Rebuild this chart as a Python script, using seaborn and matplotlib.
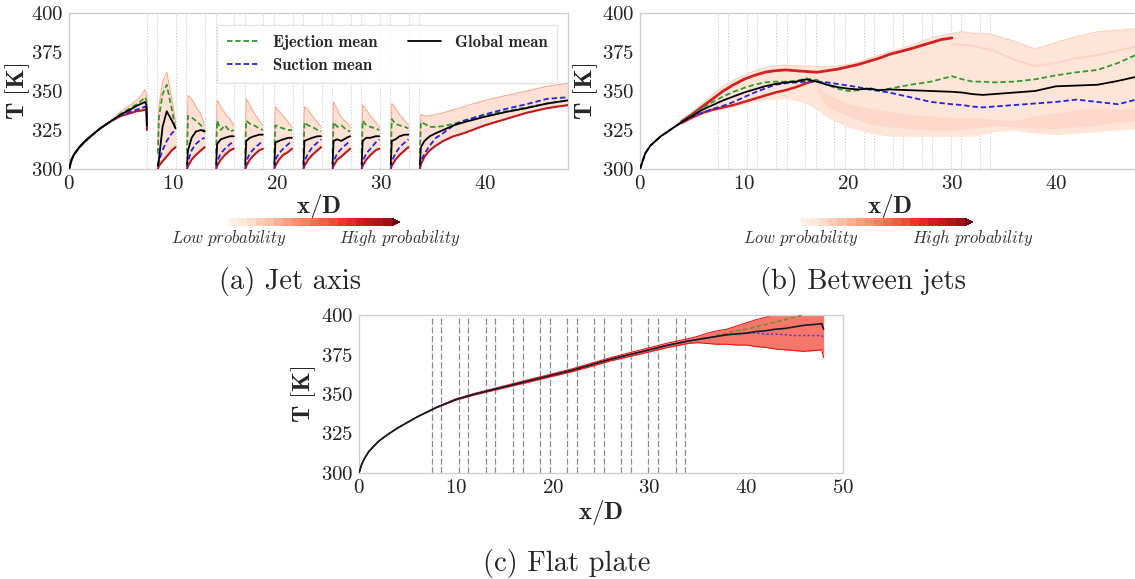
"""
Temperature along x/D for three cases: jet axis, between jets, flat plate.
Probability clouds (reds) with ejection / suction / global means.
"""

import matplotlib
matplotlib.use("Agg")
import matplotlib.pyplot as plt
import numpy as np
import pandas as pd
import seaborn as sns
from matplotlib.colors import ListedColormap, BoundaryNorm
from matplotlib.cm import ScalarMappable

# ---------------------------------------------------------------- data
jet_edges = [7.5, 8.5, 10.3, 11.3, 13.1, 14.1, 15.9, 16.9, 18.7, 19.7,
             21.5, 22.5, 24.3, 25.3, 27.1, 28.1, 29.9, 30.9, 32.7, 33.7]

# (a) jet axis: one list per segment between the jet holes
a_x = [
    [0, 0.25, 0.5, 1, 1.5, 2, 3, 4, 5, 6, 6.5, 7, 7.3, 7.45, 7.5],
    [8.55, 8.65, 9.0, 9.4, 9.9, 10.25],
    [11.35, 11.45, 11.8, 12.2, 12.7, 13.05],
    [14.15, 14.25, 14.6, 15.0, 15.5, 15.85],
    [16.95, 17.05, 17.4, 17.8, 18.3, 18.65],
    [19.75, 19.85, 20.2, 20.6, 21.1, 21.45],
    [22.55, 22.65, 23.0, 23.4, 23.9, 24.25],
    [25.35, 25.45, 25.8, 26.2, 26.7, 27.05],
    [28.15, 28.25, 28.6, 29.0, 29.5, 29.85],
    [30.95, 31.05, 31.4, 31.8, 32.3, 32.65],
    [33.75, 33.85, 34.2, 34.7, 35.3, 36, 37, 38, 40, 42, 44, 46, 48],
]
a_global = [
    [300, 306, 309.5, 314, 317.5, 320.5, 326, 330.5, 335, 338.5, 340.5, 342, 343, 341, 328],
    [302, 306, 327, 337, 331, 326],
    [303, 312, 320, 324, 325, 324],
    [303, 316, 319, 320, 321, 321],
    [303, 318, 320, 321, 322, 322],
    [303, 317, 318, 319, 320, 320],
    [303, 318, 319, 320, 321, 321],
    [303, 318, 319, 318, 320, 321],
    [303, 318, 320, 320, 321, 321],
    [303, 318, 319, 321, 322, 322],
    [303, 314, 318, 321, 323, 325, 328, 330, 333.5, 336.5, 339, 342, 344],
]
a_eject = [
    [300, 306, 309.5, 314, 317.5, 320.5, 326, 330.5, 335.5, 339.5, 341.5, 344, 346, 344, 330],
    [310, 333, 348, 354, 338, 325],
    [310, 334, 333, 331, 328, 324],
    [310, 331, 325, 328, 324, 325],
    [310, 331, 329, 328, 326, 325],
    [310, 328, 327, 326, 325, 325],
    [310, 330, 328, 327, 325, 324],
    [310, 330, 327, 328, 325, 324],
    [310, 331, 328, 327, 326, 325],
    [310, 332, 329, 328, 327, 326],
    [310, 330, 329, 327, 327, 327.5, 329, 331, 334.5, 337, 339.5, 342, 344],
]
a_suction = [
    [300, 306, 309.5, 314, 317.5, 320.5, 326, 330.5, 334.5, 337, 338, 339, 340, 339, 327],
    [302, 305, 312, 318, 323, 325],
    [301, 305, 312, 316, 319, 320],
    [301, 305, 310, 313, 316, 318],
    [301, 305, 310, 313, 316, 318],
    [301, 306, 310, 313, 316, 318],
    [301, 305, 310, 314, 317, 319],
    [301, 305, 310, 313, 316, 318],
    [301, 305, 310, 313, 317, 319],
    [301, 305, 310, 314, 317, 319],
    [301, 305, 310, 315, 320, 323, 328, 331, 335, 338.5, 341.5, 345, 346],
]
a_red_lo = [
    [300, 306, 309.5, 314, 317.5, 320.5, 326, 330.5, 334, 336, 337, 337.5, 338, 337, 325],
    [300, 302, 305, 308, 312, 314],
    [300, 302, 306, 309, 312, 314],
    [300, 302, 306, 309, 312, 313],
    [300, 302, 306, 309, 312, 313],
    [300, 302, 306, 309, 311, 313],
    [300, 302, 306, 309, 312, 314],
    [300, 302, 306, 308, 311, 313],
    [300, 302, 306, 309, 312, 313],
    [300, 302, 306, 309, 312, 314],
    [300, 303, 308, 312, 315, 318, 321, 323, 328, 332, 336, 339, 341],
]
a_env_hi = [
    [300, 306, 309.5, 314, 317.5, 320.5, 326, 330.5, 337, 341.5, 344, 347.5, 351, 348, 332],
    [315, 340, 356, 362, 345, 330],
    [320, 347, 345, 340, 335, 328],
    [320, 344, 340, 336, 332, 328],
    [320, 345, 341, 336, 331, 328],
    [318, 340, 337, 334, 330, 327],
    [318, 340, 338, 334, 330, 327],
    [318, 343, 338, 333, 330, 327],
    [318, 341, 338, 334, 330, 327],
    [318, 342, 339, 335, 331, 328],
    [320, 335, 334, 334, 335, 336, 338, 340, 344, 347, 350, 353, 355],
]

# (b) between jets
b_x = [0, 0.5, 1, 2, 3, 4, 5, 6, 7, 8, 9, 10, 11, 12, 13, 14, 15, 16, 17, 18,
       19, 20, 21, 22, 23, 24, 26, 28, 30, 31, 32, 33, 34, 36, 38, 40, 42, 44, 46, 48]
b_global = [300, 310, 315, 321, 325.5, 330, 334, 338, 341, 344, 346.5, 349, 351, 353,
            354.5, 355.5, 356, 357.5, 356, 354, 352.5, 351.5, 351, 351.5, 350.5, 351,
            350.5, 350, 349.5, 349, 348, 347.5, 348, 349, 350, 353, 353.5, 354, 356.5, 359.5]
b_eject = [300, 310, 315, 321, 325.5, 330, 334.5, 339, 343, 346.5, 349.5, 352, 354, 355.5,
           356, 356, 356.5, 358, 357, 354, 351.5, 350, 350.5, 352, 350.5, 351.5,
           354, 356, 359.5, 357.5, 356, 356, 355.5, 356, 357.5, 360, 362, 363.5, 368, 374]
b_suction = [300, 310, 315, 321, 325.5, 330, 333.5, 336, 338.5, 340.5, 343, 346, 349, 351.5,
             354, 355, 355.5, 356, 356, 355.5, 354.5, 353.5, 352.5, 351, 350, 349,
             346, 343, 341.5, 341, 340, 339.5, 340, 341, 342, 343, 344.5, 343, 341.5, 345]
b_env_hi = [300, 310, 315, 321, 325.5, 331, 336, 342, 348, 353, 357, 360, 363, 365,
            366, 366.5, 366, 366, 366, 365.5, 366, 367, 368.5, 371, 373, 375,
            379, 384, 387, 388, 387, 387, 386, 382, 377, 381, 385, 388, 389, 390]
b_env_lo = [300, 310, 315, 321, 325.5, 329, 332, 335, 337, 338.5, 340, 341.5, 343, 344,
            345, 345, 344, 342, 338, 333, 330, 327, 325, 323, 322, 321,
            321, 321, 321, 321, 321, 322, 324, 325, 323, 322, 323, 324, 325, 326]
b_red_up_x = [4, 5, 6, 7, 8, 9, 10, 11, 12, 13, 14, 15, 16, 17, 18, 19, 20, 21, 22, 23,
              24, 26, 28, 29, 30]
b_red_up = [330.5, 335, 340, 345, 350, 354, 357.5, 360, 362, 363, 363.5, 363, 362.5, 362,
            363, 364, 365.5, 367, 369, 371, 373.5, 377, 381, 383, 384]
b_red_lo_x = [4, 5, 6, 7, 8, 9, 10, 11, 12, 13, 14, 15, 16, 17]
b_red_lo = [329.5, 333, 336, 338, 339.5, 341, 343, 345, 347, 349, 350.5, 352.5, 355, 357]
b_dense_x = [17, 18, 20, 22, 24, 26, 28, 30, 32, 34, 36, 38, 40, 42, 44, 46, 48]
b_dense_hi = [354, 348, 342, 339, 337, 335, 334, 333, 333, 332, 331, 334, 336, 338, 339, 338, 339]
b_dense_lo = [350, 340, 334, 329, 327, 326, 325, 325, 326, 328, 327, 326, 326, 327, 328, 330, 331]
b_streak_top_x = [30, 32, 34, 36, 38, 40, 42, 44, 46, 48]
b_streak_top = [380, 379, 376, 370, 366, 368, 371, 373, 376, 379]

# (c) flat plate
c_x = [0, 0.25, 0.5, 1, 2, 3, 4, 5, 6, 7, 8, 9, 10, 12, 14, 16, 18, 20, 22, 24, 26, 28,
       30, 32, 34, 35, 36, 37, 38, 39, 40, 41, 42, 43, 44, 45, 46, 47, 47.8, 48]
c_global = [300, 305, 308.5, 313.5, 320, 324.5, 328.5, 332, 335.5, 338.5, 341.5, 344, 346.5,
            350, 353, 356, 359, 362, 365, 368.5, 372, 375, 378, 381, 383.5, 384.5, 385.5,
            386.5, 387.5, 388, 388.5, 389.5, 390, 391, 391.5, 392.5, 393.5, 394, 394.5, 391]
c_eject = [300, 305, 308.5, 313.5, 320, 324.5, 328.5, 332, 335.5, 338.5, 341.5, 344, 346.5,
           350, 353, 356, 359, 362, 365, 368.5, 372, 375, 378, 381, 383.5, 384.5, 385.5,
           387, 388.5, 390, 391, 392.5, 394, 395.5, 397, 398.5, 400.5, 402, 403.5, 403.5]
c_suction = [300, 305, 308.5, 313.5, 320, 324.5, 328.5, 332, 335.5, 338.5, 341.5, 344, 346.5,
             350, 353, 356, 359, 362, 365, 368.5, 372, 375, 378, 381, 383.5, 384.5, 385.5,
             386.5, 387.5, 388, 388.5, 388.5, 388, 388, 387.5, 387, 387, 387, 387, 385]
c_env_hi = [300, 305, 308.5, 313.5, 320, 324.5, 328.5, 332, 335.5, 338.5, 341.7, 344.3, 346.9,
            350.5, 353.6, 356.7, 359.8, 362.8, 365.9, 369.5, 373, 376.2, 379.3, 382.4, 385,
            386.5, 388.5, 390, 391, 393, 395, 397, 398.5, 400.5, 403, 405, 407, 409, 410, 410]
c_env_lo = [300, 305, 308.5, 313.5, 320, 324.5, 328.5, 332, 335.5, 338.5, 341.3, 343.7, 346.1,
            349.5, 352.4, 355.3, 358.2, 361.2, 364.1, 367.5, 371, 373.8, 376.7, 379.6, 382,
            382.5, 382, 381.5, 381.5, 381, 381, 380, 379.5, 378.5, 378, 377.5, 377, 377.5, 378, 373]

# ---------------------------------------------------------------- style
sns.set_theme(style="white")
plt.rcParams["font.family"] = ["serif"]
plt.rcParams["font.serif"] = ["cmr10", "DejaVu Serif"]
plt.rcParams["mathtext.fontset"] = "cm"
plt.rcParams["axes.formatter.use_mathtext"] = True

GREEN = "#2f9a2f"
BLUE = "#2323e6"
reds = plt.get_cmap("Reds")
DASH = (0, (3, 1.6))

W, H = 1135, 579


def px_rect(x0, y0, x1, y1):
    return [x0 / W, 1 - y1 / H, (x1 - x0) / W, (y1 - y0) / H]


def style_axes(ax, xmax, ylab_x):
    ax.set_xlim(0, xmax)
    ax.set_ylim(300, 400)
    ax.set_yticks([300, 325, 350, 375, 400])
    ax.set_xticks(list(range(0, xmax + 1, 10)))
    for s in ax.spines.values():
        s.set_color("#cfcfcf")
        s.set_linewidth(1)
    ax.tick_params(labelsize=15, length=3, color="#cfcfcf", pad=1, labelcolor="#222222")
    ax.set_xlabel(r"$\mathbf{x/D}$", fontsize=18)
    ax.set_ylabel(r"$\mathbf{T}\ [\mathbf{K}]$", fontsize=18)
    ax.xaxis.set_label_coords(0.5, -0.15)
    ax.yaxis.set_label_coords(ylab_x, 0.5)


def draw_jets(ax, **kw):
    for xe in jet_edges:
        ax.axvline(xe, zorder=0.5, **kw)


def mean_line(ax, x, y, color, ls, lw=1.3, label=None):
    sns.lineplot(x=x, y=y, ax=ax, color=color, linestyle=ls, linewidth=lw,
                 estimator=None, sort=False, label=label, zorder=4)


def add_colorbar(fig, x0, x1, y0, y1):
    cmap = ListedColormap(reds(np.linspace(0.04, 0.88, 18)))
    cmap.set_over(reds(0.98))
    norm = BoundaryNorm(np.linspace(0, 1, 19), cmap.N)
    cax = fig.add_axes(px_rect(x0, y0, x1, y1))
    cb = fig.colorbar(ScalarMappable(norm=norm, cmap=cmap), cax=cax,
                      orientation="horizontal", extend="max", extendfrac=0.05)
    cb.outline.set_visible(False)
    cb.set_ticks([])
    cax.minorticks_off()
    cax.tick_params(which="both", length=0, labelbottom=False)
    ymid = 1 - (y1 + 12) / H
    fig.text(x0 / W, ymid, r"$\mathit{Low\ probability}$", ha="center", va="center",
             fontsize=12, color="#333333")
    fig.text(x1 / W, ymid, r"$\mathit{High\ probability}$", ha="center", va="center",
             fontsize=12, color="#333333")


fig = plt.figure(figsize=(W / 100, H / 100), dpi=100)

# ---------------------------------------------------------------- (a)
ax_a = fig.add_axes(px_rect(69, 13, 568, 169))
draw_jets(ax_a, color="#c8c8c8", lw=0.8, ls=":")
for i, xs in enumerate(a_x):
    ax_a.fill_between(xs, a_red_lo[i], a_env_hi[i], color=reds(0.12), lw=0, zorder=1)
    ax_a.plot(xs, a_env_hi[i], color=reds(0.3), lw=0.8, zorder=2)
    ax_a.plot(xs, a_red_lo[i], color=reds(0.78), lw=1.5, zorder=3)
    first = i == 0
    mean_line(ax_a, xs, a_eject[i], GREEN, DASH, label="Ejection mean" if first else None)
    mean_line(ax_a, xs, a_suction[i], BLUE, DASH, label="Suction mean" if first else None)
    mean_line(ax_a, xs, a_global[i], "black", "-", label="Global mean" if first else None)
style_axes(ax_a, 48, -0.075)
ax_a.legend(loc="upper right", bbox_to_anchor=(0.995, 0.975), ncol=2,
            prop={"family": "cmb10", "size": 12}, frameon=True, fancybox=False,
            edgecolor="#e2e2e2", framealpha=0.9, handlelength=2.0,
            columnspacing=1.8, borderpad=0.6, labelspacing=0.45)
add_colorbar(fig, 229, 400, 218, 226)

# ---------------------------------------------------------------- (b)
ax_b = fig.add_axes(px_rect(640, 13, 1139, 169))
draw_jets(ax_b, color="#c8c8c8", lw=0.8, ls=":")
ax_b.fill_between(b_x, b_env_lo, b_env_hi, color=reds(0.1), lw=0, zorder=1)
ax_b.plot(b_x, b_env_hi, color=reds(0.18), lw=0.8, zorder=2)
ax_b.fill_between(b_dense_x, b_dense_lo, b_dense_hi, color=reds(0.2), alpha=0.45,
                  lw=0, zorder=1.5)
ax_b.plot(b_streak_top_x, b_streak_top, color=reds(0.2), lw=1.5, alpha=0.6, zorder=2)
ax_b.plot(b_red_up_x, b_red_up, color=reds(0.72), lw=2, zorder=3)
ax_b.plot(b_red_lo_x, b_red_lo, color=reds(0.72), lw=1.8, zorder=3)
mean_line(ax_b, b_x, b_eject, GREEN, DASH)
mean_line(ax_b, b_x, b_suction, BLUE, DASH)
mean_line(ax_b, b_x, b_global, "black", "-")
style_axes(ax_b, 48, -0.08)
add_colorbar(fig, 801, 973, 218, 226)

# ---------------------------------------------------------------- (c)
ax_c = fig.add_axes(px_rect(359, 315, 843, 473))
draw_jets(ax_c, color="#8c8c8c", lw=0.9, ls=(0, (5, 2)))
ax_c.fill_between(c_x, c_env_lo, c_env_hi, color="#f7776b", lw=0, zorder=1)
ax_c.plot(c_x, c_env_hi, color="#ff1010", lw=0.8, zorder=2)
ax_c.plot(c_x, c_env_lo, color="#ff1010", lw=0.8, zorder=2)
mean_line(ax_c, c_x, c_eject, "#6f8f2f", DASH, lw=1.1)
mean_line(ax_c, c_x, c_suction, "#6a35d8", (0, (1.5, 1.5)), lw=1.1)
mean_line(ax_c, c_x, c_global, "#1a1a2e", "-", lw=1.2)
style_axes(ax_c, 50, -0.085)
ax_c.xaxis.set_label_coords(0.5, -0.16)

# ---------------------------------------------------------------- captions
fig.text(290 / W, 1 - 282 / H, "(a) Jet axis", ha="center", va="center", fontsize=20.5)
fig.text(863 / W, 1 - 282 / H, "(b) Between jets", ha="center", va="center", fontsize=20.5)
fig.text(567 / W, 1 - 563 / H, "(c) Flat plate", ha="center", va="center", fontsize=20.5)

fig.savefig("out.png", dpi=100)
